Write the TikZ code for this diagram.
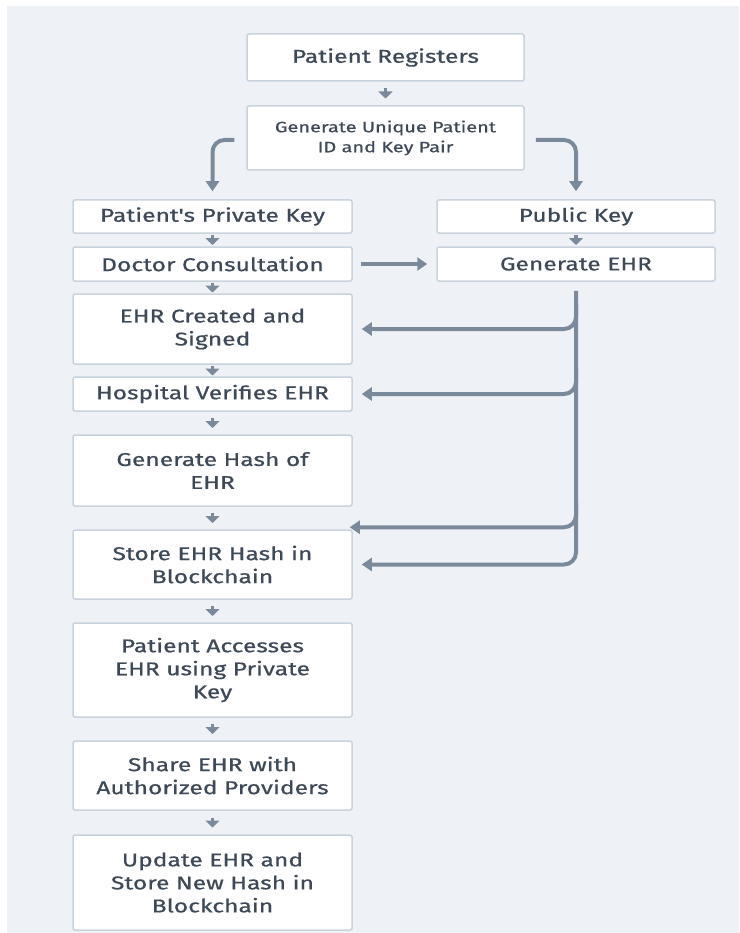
\documentclass[tikz,border=0pt]{standalone}
\usepackage{fontspec}
\setmainfont{Fira Sans}
\newfontfamily\boxfont{Fira Sans}[FakeStretch=1.33, FakeBold=0.6]
\usetikzlibrary{arrows.meta,calc}
\definecolor{bg}{HTML}{EEF2F6}
\definecolor{bd}{HTML}{C9D3DD}
\definecolor{ar}{HTML}{7A8A9A}
\definecolor{tx}{HTML}{3D4956}
\tikzset{
  box/.style={draw=bd, line width=1.5pt, fill=white, rounded corners=2pt, align=center,
    text=tx, font=\boxfont\fontsize{18.5}{23}\selectfont, inner sep=0pt},
  lbox/.style={box, minimum width=279pt},
  rbox/.style={box, minimum width=278pt},
  sarrow/.style={draw=ar, line width=3.5pt, -{Triangle[width=14pt,length=7pt]}},
  barrow/.style={draw=ar, line width=4pt, rounded corners=12pt, -{Triangle[width=13pt,length=10pt]}},
}
\begin{document}
\begin{tikzpicture}[x=1pt,y=-1pt]
\useasboundingbox (0,0) rectangle (739,933);
\fill[white] (0,0) rectangle (739,933);
\fill[bg] (7,6) rectangle (739,933);

\node[box, minimum width=277pt, minimum height=47pt] (reg) at (385.5,57.5) {Patient Registers};
\node[box, minimum width=277pt, minimum height=64pt, font=\boxfont\fontsize{15}{20}\selectfont] (gen) at (385.5,138) {Generate Unique Patient\\ID and Key Pair};

\node[lbox, minimum height=33pt] (priv) at (212.5,216.5) {Patient's Private Key};
\node[lbox, minimum height=34pt] (doc) at (212.5,264) {Doctor Consultation};
\node[lbox, minimum height=70pt] (created) at (212.5,329) {EHR Created and\\Signed};
\node[lbox, minimum height=34pt] (hosp) at (212.5,394) {Hospital Verifies EHR};
\node[lbox, minimum height=71pt] (hash) at (212.5,470.5) {Generate Hash of\\EHR};
\node[lbox, minimum height=69pt] (store) at (212.5,564.5) {Store EHR Hash in\\Blockchain};
\node[lbox, minimum height=94pt] (access) at (212.5,670) {Patient Accesses\\EHR using Private\\Key};
\node[lbox, minimum height=69pt] (share) at (212.5,775.5) {Share EHR with\\Authorized Providers};
\node[lbox, minimum height=95pt] (update) at (212.5,882.5) {Update EHR and\\Store New Hash in\\Blockchain};

\node[rbox, minimum height=33pt] (pub) at (576,216.5) {Public Key};
\node[rbox, minimum height=34pt] (gehr) at (576,264) {Generate EHR};

% short arrows
\foreach \a/\b in {reg/gen, priv/doc, doc/created, created/hosp, hosp/hash, hash/store, store/access, access/share, share/update, pub/gehr}
  \draw[sarrow] ($($(\a.south)!0.5!(\b.north)$)+(0,-5)$) -- ++(0,10);

% branches from key generation
\draw[barrow] ($(gen.west)+(-12,2)$) -| ($(priv.north)+(0,-8)$);
\draw[barrow] ($(gen.east)+(11,2)$) -| ($(pub.north)+(0,-8)$);

% doctor to generate EHR
\draw[barrow, rounded corners=0pt] ($(doc.east)+(8,0)$) -- ($(gehr.west)+(-9,0)$);

% bus from Generate EHR
\draw[barrow] ($(gehr.south)+(0,9)$) |- ($(store.east)+(9,0)$);
\draw[barrow] ($(gehr.south |- created.east)+(0,-25)$) |- ($(created.east)+(9,0)$);
\draw[barrow] ($(gehr.south |- hosp.east)+(0,-25)$) |- ($(hosp.east)+(9,0)$);
\coordinate (stc) at ($(store.north east)+(-3,-2)$);
\draw[barrow] ($(gehr.south |- stc)+(0,-25)$) |- (stc);
\end{tikzpicture}
\end{document}
